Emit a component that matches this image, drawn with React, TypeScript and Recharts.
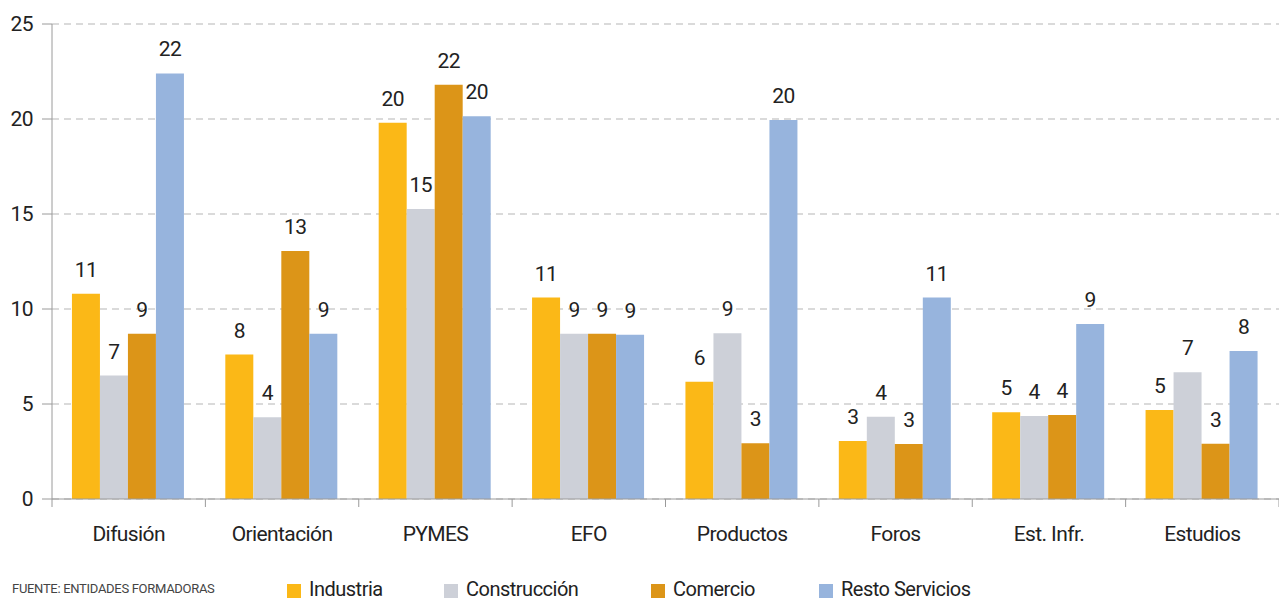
import { BarChart, Bar, XAxis, YAxis, CartesianGrid, LabelList } from 'recharts'

const CATEGORIES = ['Difusión', 'Orientación', 'PYMES', 'EFO', 'Productos', 'Foros', 'Est. Infr.', 'Estudios']
const INDUSTRIA = [10.8, 7.6, 19.8, 10.6, 6.17, 3.05, 4.56, 4.68]
const CONSTRUCCION = [6.5, 4.3, 15.26, 8.7, 8.72, 4.33, 4.37, 6.67]
const COMERCIO = [8.7, 13.05, 21.8, 8.7, 2.93, 2.89, 4.42, 2.91]
const RESTO = [22.4, 8.7, 20.15, 8.65, 19.95, 10.6, 9.21, 7.79]
const Y_TICKS = [0, 5, 10, 15, 20, 25]

const SERIES = [
  { key: 'industria', name: 'Industria', color: '#FBB817' },
  { key: 'construccion', name: 'Construcción', color: '#CDD0D8' },
  { key: 'comercio', name: 'Comercio', color: '#DC9518' },
  { key: 'resto', name: 'Resto Servicios', color: '#97B4DD' },
]

const data = CATEGORIES.map((c, i) => ({
  name: c,
  industria: INDUSTRIA[i],
  construccion: CONSTRUCCION[i],
  comercio: COMERCIO[i],
  resto: RESTO[i],
}))

const FONT = '"Liberation Sans Narrow", "Roboto", sans-serif'
const TEXT = '#222'
const AXIS = '#9a9a9a'

// legend square left edges, matching the original footer
const LEGEND_LEFT = [287, 444, 651, 819]

function CategoryTick(props: any) {
  const { x, y, payload, index } = props
  const off = payload.offset ?? 0
  return (
    <g>
      <line x1={x - off} x2={x - off} y1={y} y2={y + 8} stroke={AXIS} />
      {index === CATEGORIES.length - 1 && (
        <line x1={x + off} x2={x + off} y1={y} y2={y + 8} stroke={AXIS} />
      )}
      <text x={x} y={y + 42} textAnchor="middle" fill={TEXT} fontSize={21} letterSpacing={-0.6} fontFamily={FONT}>
        {payload.value}
      </text>
    </g>
  )
}

export default function App() {
  return (
    <div style={{ position: 'absolute', left: 0, top: 0, width: 1279, height: 601, background: '#fff', overflow: 'hidden' }}>
      <BarChart
        width={1279}
        height={601}
        data={data}
        margin={{ top: 24, right: 0, left: 0, bottom: 52 }}
        barCategoryGap="13%"
        barGap={0}
      >
        <CartesianGrid vertical={false} stroke="#b5b5b5" strokeDasharray="7 5" />
        <XAxis
          dataKey="name"
          height={50}
          interval={0}
          tickLine={false}
          tickSize={0}
          tickMargin={0}
          axisLine={{ stroke: AXIS }}
          tick={<CategoryTick />}
        />
        <YAxis
          domain={[0, 25]}
          ticks={Y_TICKS}
          width={52}
          tickSize={10}
          tickMargin={9}
          axisLine={{ stroke: AXIS }}
          tickLine={{ stroke: AXIS }}
          tick={{ fill: TEXT, fontSize: 21, fontFamily: FONT, letterSpacing: -0.6 }}
        />
        {SERIES.map((s) => (
          <Bar key={s.key} dataKey={s.key} name={s.name} fill={s.color} isAnimationActive={false}>
            <LabelList
              dataKey={s.key}
              position="top"
              offset={17}
              formatter={(v: any) => Math.round(Number(v))}
              style={{ fill: TEXT, fontSize: 21, fontFamily: FONT, letterSpacing: -0.6 }}
            />
          </Bar>
        ))}
      </BarChart>
      <div
        style={{
          position: 'absolute',
          left: 12,
          top: 581,
          fontFamily: FONT,
          fontSize: 13,
          letterSpacing: -0.3,
          color: '#444',
          whiteSpace: 'nowrap',
        }}
      >
        FUENTE: ENTIDADES FORMADORAS
      </div>
      {SERIES.map((s, i) => (
        <div
          key={s.key}
          style={{
            position: 'absolute',
            left: LEGEND_LEFT[i],
            top: 577,
            display: 'flex',
            alignItems: 'flex-start',
            whiteSpace: 'nowrap',
            fontFamily: FONT,
            fontSize: 20,
            letterSpacing: -0.5,
            color: TEXT,
            lineHeight: '24px',
          }}
        >
          <span style={{ display: 'inline-block', width: 14, height: 14, background: s.color, marginTop: 7, marginRight: 8 }} />
          {s.name}
        </div>
      ))}
    </div>
  )
}
